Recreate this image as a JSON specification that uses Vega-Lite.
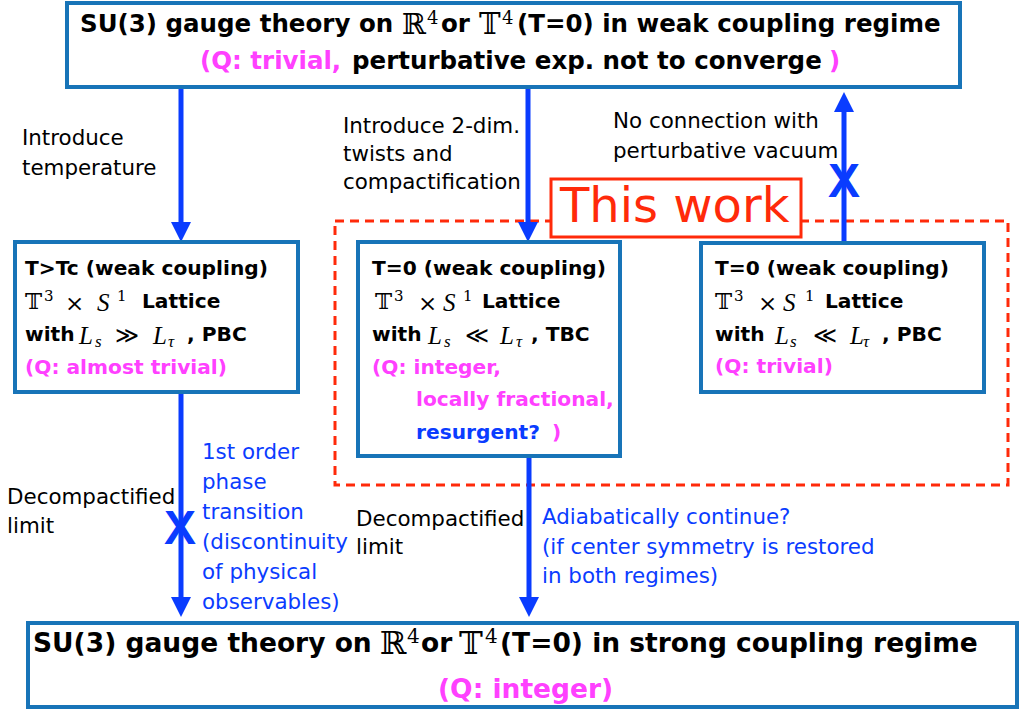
{
  "$schema": "https://vega.github.io/schema/vega-lite/v6.json",
  "width": 1022,
  "height": 709,
  "padding": 0,
  "autosize": {"type": "fit", "contains": "padding"},
  "background": "white",
  "config": {"view": {"stroke": null}},
  "datasets": {
    "boxes": [
      {"id": "top", "x": 67, "x2": 960, "y": 3, "y2": 87},
      {"id": "left", "x": 15, "x2": 298, "y": 242, "y2": 392},
      {"id": "middle", "x": 358, "x2": 620, "y": 242, "y2": 456},
      {"id": "right", "x": 701, "x2": 984, "y": 243, "y2": 392},
      {"id": "bottom", "x": 28, "x2": 1017, "y": 623, "y2": 707}
    ],
    "dashed": [{"id": "thiswork-region", "x": 335, "x2": 1008, "y": 221, "y2": 485}],
    "tag": [{"id": "thiswork-tag", "x": 551, "x2": 801, "y": 179, "y2": 237}],
    "shafts": [
      {"id": "a1", "x": 181, "y": 87, "y2": 226},
      {"id": "a2", "x": 528, "y": 87, "y2": 226},
      {"id": "a3", "x": 844, "y": 108, "y2": 243},
      {"id": "a4", "x": 181, "y": 392, "y2": 602},
      {"id": "a5", "x": 529, "y": 456, "y2": 602}
    ],
    "heads": [
      {"id": "a1", "x": 181, "y": 232, "dir": "down"},
      {"id": "a2", "x": 528, "y": 232, "dir": "down"},
      {"id": "a3", "x": 844, "y": 102, "dir": "up"},
      {"id": "a4", "x": 181, "y": 607, "dir": "down"},
      {"id": "a5", "x": 529, "y": 607, "dir": "down"}
    ],
    "crosses": [
      {"x": 180, "y": 530, "t": "X"},
      {"x": 844, "y": 183, "t": "X"}
    ],
    "sansBold": [
      {"x": 80, "y": 25, "t": "SU(3) gauge theory on", "tone": "k", "tier": "h1"},
      {"x": 441, "y": 25, "t": "or", "tone": "k", "tier": "h1"},
      {"x": 517, "y": 25, "t": "(T=0) in weak coupling regime", "tone": "k", "tier": "h1"},
      {"x": 200, "y": 62, "t": "(Q: trivial,", "tone": "m", "tier": "h1"},
      {"x": 352, "y": 62, "t": "perturbative exp. not to converge", "tone": "k", "tier": "h1"},
      {"x": 829, "y": 62, "t": ")", "tone": "m", "tier": "h1"},
      {"x": 25, "y": 269, "t": "T>Tc (weak coupling)", "tone": "k", "tier": "bb"},
      {"x": 142, "y": 302, "t": "Lattice", "tone": "k", "tier": "bb"},
      {"x": 25, "y": 335, "t": "with", "tone": "k", "tier": "bb"},
      {"x": 187, "y": 335, "t": ", PBC", "tone": "k", "tier": "bb"},
      {"x": 25, "y": 368, "t": "(Q: almost trivial)", "tone": "m", "tier": "bb"},
      {"x": 372, "y": 269, "t": "T=0 (weak coupling)", "tone": "k", "tier": "bb"},
      {"x": 482, "y": 302, "t": "Lattice", "tone": "k", "tier": "bb"},
      {"x": 372, "y": 335, "t": "with", "tone": "k", "tier": "bb"},
      {"x": 531, "y": 335, "t": ", TBC", "tone": "k", "tier": "bb"},
      {"x": 372, "y": 368, "t": "(Q: integer,", "tone": "m", "tier": "bb"},
      {"x": 416, "y": 400, "t": "locally fractional,", "tone": "m", "tier": "bb"},
      {"x": 416, "y": 433, "t": "resurgent?", "tone": "b", "tier": "bb"},
      {"x": 552, "y": 433, "t": ")", "tone": "m", "tier": "bb"},
      {"x": 715, "y": 269, "t": "T=0 (weak coupling)", "tone": "k", "tier": "bb"},
      {"x": 825, "y": 302, "t": "Lattice", "tone": "k", "tier": "bb"},
      {"x": 715, "y": 335, "t": "with", "tone": "k", "tier": "bb"},
      {"x": 882, "y": 335, "t": ", PBC", "tone": "k", "tier": "bb"},
      {"x": 715, "y": 367, "t": "(Q: trivial)", "tone": "m", "tier": "bb"},
      {"x": 33, "y": 644, "t": "SU(3) gauge theory on", "tone": "k", "tier": "h2"},
      {"x": 421, "y": 644, "t": "or", "tone": "k", "tier": "h2"},
      {"x": 500, "y": 644, "t": "(T=0) in strong coupling regime", "tone": "k", "tier": "h2"},
      {"x": 438, "y": 690, "t": "(Q: integer)", "tone": "m", "tier": "h2"}
    ],
    "sansRegular": [
      {"x": 22, "y": 139, "t": "Introduce", "tone": "k", "tier": "l"},
      {"x": 22, "y": 169, "t": "temperature", "tone": "k", "tier": "l"},
      {"x": 343, "y": 127, "t": "Introduce 2-dim.", "tone": "k", "tier": "l"},
      {"x": 343, "y": 155, "t": "twists and", "tone": "k", "tier": "l"},
      {"x": 343, "y": 183, "t": "compactification", "tone": "k", "tier": "l"},
      {"x": 613, "y": 122, "t": "No connection with", "tone": "k", "tier": "l"},
      {"x": 613, "y": 152, "t": "perturbative vacuum", "tone": "k", "tier": "l"},
      {"x": 560, "y": 208, "t": "This work", "tone": "r", "tier": "big"},
      {"x": 7, "y": 498, "t": "Decompactified", "tone": "k", "tier": "l"},
      {"x": 7, "y": 527, "t": "limit", "tone": "k", "tier": "l"},
      {"x": 202, "y": 453, "t": "1st order", "tone": "b", "tier": "l"},
      {"x": 202, "y": 483, "t": "phase", "tone": "b", "tier": "l"},
      {"x": 202, "y": 513, "t": "transition", "tone": "b", "tier": "l"},
      {"x": 202, "y": 543, "t": "(discontinuity", "tone": "b", "tier": "l"},
      {"x": 202, "y": 573, "t": "of physical", "tone": "b", "tier": "l"},
      {"x": 202, "y": 603, "t": "observables)", "tone": "b", "tier": "l"},
      {"x": 356, "y": 520, "t": "Decompactified", "tone": "k", "tier": "l"},
      {"x": 356, "y": 548, "t": "limit", "tone": "k", "tier": "l"},
      {"x": 542, "y": 518, "t": "Adiabatically continue?", "tone": "b", "tier": "l"},
      {"x": 542, "y": 548, "t": "(if center symmetry is restored", "tone": "b", "tier": "l"},
      {"x": 542, "y": 577, "t": "in both regimes)", "tone": "b", "tier": "l"}
    ],
    "mathRoman": [
      {"x": 402, "y": 25, "t": "ℝ", "tone": "k", "tier": "m1"},
      {"x": 427, "y": 19, "t": "4", "tone": "k", "tier": "s1"},
      {"x": 479, "y": 25, "t": "𝕋", "tone": "k", "tier": "m1"},
      {"x": 502, "y": 19, "t": "4", "tone": "k", "tier": "s1"},
      {"x": 380, "y": 644, "t": "ℝ", "tone": "k", "tier": "m2"},
      {"x": 407, "y": 637, "t": "4", "tone": "k", "tier": "s2"},
      {"x": 459, "y": 644, "t": "𝕋", "tone": "k", "tier": "m2"},
      {"x": 485, "y": 637, "t": "4", "tone": "k", "tier": "s2"},
      {"x": 25, "y": 302, "t": "𝕋", "tone": "k", "tier": "mb"},
      {"x": 44, "y": 296, "t": "3", "tone": "k", "tier": "sb"},
      {"x": 65, "y": 304, "t": "×", "tone": "k", "tier": "mb"},
      {"x": 117, "y": 296, "t": "1", "tone": "k", "tier": "sb"},
      {"x": 115, "y": 336, "t": "≫", "tone": "k", "tier": "mb"},
      {"x": 375, "y": 302, "t": "𝕋", "tone": "k", "tier": "mb"},
      {"x": 394, "y": 296, "t": "3", "tone": "k", "tier": "sb"},
      {"x": 418, "y": 304, "t": "×", "tone": "k", "tier": "mb"},
      {"x": 463, "y": 296, "t": "1", "tone": "k", "tier": "sb"},
      {"x": 465, "y": 336, "t": "≪", "tone": "k", "tier": "mb"},
      {"x": 715, "y": 302, "t": "𝕋", "tone": "k", "tier": "mb"},
      {"x": 734, "y": 296, "t": "3", "tone": "k", "tier": "sb"},
      {"x": 758, "y": 304, "t": "×", "tone": "k", "tier": "mb"},
      {"x": 805, "y": 296, "t": "1", "tone": "k", "tier": "sb"},
      {"x": 813, "y": 336, "t": "≪", "tone": "k", "tier": "mb"}
    ],
    "mathItalic": [
      {"x": 97, "y": 303, "t": "S", "tone": "k", "tier": "it"},
      {"x": 79, "y": 336, "t": "L", "tone": "k", "tier": "it"},
      {"x": 95, "y": 342, "t": "s", "tone": "k", "tier": "sub"},
      {"x": 153, "y": 336, "t": "L", "tone": "k", "tier": "it"},
      {"x": 168, "y": 342, "t": "τ", "tone": "k", "tier": "sub"},
      {"x": 443, "y": 303, "t": "S", "tone": "k", "tier": "it"},
      {"x": 428, "y": 336, "t": "L", "tone": "k", "tier": "it"},
      {"x": 444, "y": 342, "t": "s", "tone": "k", "tier": "sub"},
      {"x": 500, "y": 336, "t": "L", "tone": "k", "tier": "it"},
      {"x": 516, "y": 342, "t": "τ", "tone": "k", "tier": "sub"},
      {"x": 783, "y": 303, "t": "S", "tone": "k", "tier": "it"},
      {"x": 775, "y": 336, "t": "L", "tone": "k", "tier": "it"},
      {"x": 790, "y": 342, "t": "s", "tone": "k", "tier": "sub"},
      {"x": 850, "y": 336, "t": "L", "tone": "k", "tier": "it"},
      {"x": 863, "y": 342, "t": "τ", "tone": "k", "tier": "sub"}
    ]
  },
  "layer": [
    {
      "data": {"name": "dashed"},
      "mark": {"type": "rect", "fill": null, "fillOpacity": 0, "stroke": "#ff2a0a", "strokeWidth": 3, "strokeDash": [9, 6]},
      "encoding": {
        "x": {"field": "x", "type": "quantitative", "scale": {"domain": [0, 1022], "nice": false, "zero": false}, "axis": null},
        "x2": {"field": "x2"},
        "y": {"field": "y", "type": "quantitative", "scale": {"domain": [0, 709], "reverse": true, "nice": false, "zero": false}, "axis": null},
        "y2": {"field": "y2"}
      }
    },
    {
      "data": {"name": "shafts"},
      "mark": {"type": "rule", "stroke": "#0a3cff", "strokeWidth": 5},
      "encoding": {
        "x": {"field": "x", "type": "quantitative", "scale": {"domain": [0, 1022], "nice": false, "zero": false}, "axis": null},
        "y": {"field": "y", "type": "quantitative", "scale": {"domain": [0, 709], "reverse": true, "nice": false, "zero": false}, "axis": null},
        "y2": {"field": "y2"}
      }
    },
    {
      "data": {"name": "heads"},
      "mark": {"type": "point", "filled": true, "fill": "#0a3cff", "opacity": 1, "strokeWidth": 0, "size": 400},
      "encoding": {
        "x": {"field": "x", "type": "quantitative", "scale": {"domain": [0, 1022], "nice": false, "zero": false}, "axis": null},
        "y": {"field": "y", "type": "quantitative", "scale": {"domain": [0, 709], "reverse": true, "nice": false, "zero": false}, "axis": null},
        "shape": {"field": "dir", "type": "nominal", "scale": {"domain": ["down", "up"], "range": ["M-1,-1L1,-1L0,1Z", "M-1,1L1,1L0,-1Z"]}, "legend": null}
      }
    },
    {
      "data": {"name": "boxes"},
      "mark": {"type": "rect", "fill": "white", "stroke": "#1874b8", "strokeWidth": 4},
      "encoding": {
        "x": {"field": "x", "type": "quantitative", "scale": {"domain": [0, 1022], "nice": false, "zero": false}, "axis": null},
        "x2": {"field": "x2"},
        "y": {"field": "y", "type": "quantitative", "scale": {"domain": [0, 709], "reverse": true, "nice": false, "zero": false}, "axis": null},
        "y2": {"field": "y2"}
      }
    },
    {
      "data": {"name": "tag"},
      "mark": {"type": "rect", "fill": "white", "stroke": "#ff2a0a", "strokeWidth": 3},
      "encoding": {
        "x": {"field": "x", "type": "quantitative", "scale": {"domain": [0, 1022], "nice": false, "zero": false}, "axis": null},
        "x2": {"field": "x2"},
        "y": {"field": "y", "type": "quantitative", "scale": {"domain": [0, 709], "reverse": true, "nice": false, "zero": false}, "axis": null},
        "y2": {"field": "y2"}
      }
    },
    {
      "data": {"name": "sansBold"},
      "mark": {"type": "text", "font": "DejaVu Sans", "fontWeight": "bold", "align": "left", "baseline": "middle"},
      "encoding": {
        "x": {"field": "x", "type": "quantitative", "scale": {"domain": [0, 1022], "nice": false, "zero": false}, "axis": null},
        "y": {"field": "y", "type": "quantitative", "scale": {"domain": [0, 709], "reverse": true, "nice": false, "zero": false}, "axis": null},
        "text": {"field": "t"},
        "color": {"field": "tone", "type": "nominal", "scale": {"domain": ["k", "m", "b", "r"], "range": ["#000000", "#ff40ff", "#0a3cff", "#ff2a0a"]}, "legend": null},
        "size": {"field": "tier", "type": "ordinal", "scale": {"type": "ordinal", "domain": ["h1", "h2", "bb", "l", "big", "m1", "m2", "s1", "s2", "mb", "sb", "it", "sub"], "range": [24.5, 26.5, 20.2, 21.4, 48, 29, 32, 18, 20, 23, 15, 25, 17]}, "legend": null}
      }
    },
    {
      "data": {"name": "sansRegular"},
      "mark": {"type": "text", "font": "DejaVu Sans", "align": "left", "baseline": "middle"},
      "encoding": {
        "x": {"field": "x", "type": "quantitative", "scale": {"domain": [0, 1022], "nice": false, "zero": false}, "axis": null},
        "y": {"field": "y", "type": "quantitative", "scale": {"domain": [0, 709], "reverse": true, "nice": false, "zero": false}, "axis": null},
        "text": {"field": "t"},
        "color": {"field": "tone", "type": "nominal", "scale": {"domain": ["k", "m", "b", "r"], "range": ["#000000", "#ff40ff", "#0a3cff", "#ff2a0a"]}, "legend": null},
        "size": {"field": "tier", "type": "ordinal", "scale": {"type": "ordinal", "domain": ["h1", "h2", "bb", "l", "big", "m1", "m2", "s1", "s2", "mb", "sb", "it", "sub"], "range": [24.5, 26.5, 20.2, 21.4, 48, 29, 32, 18, 20, 23, 15, 25, 17]}, "legend": null}
      }
    },
    {
      "data": {"name": "mathRoman"},
      "mark": {"type": "text", "font": "DejaVu Serif, DejaVu Sans", "align": "left", "baseline": "middle"},
      "encoding": {
        "x": {"field": "x", "type": "quantitative", "scale": {"domain": [0, 1022], "nice": false, "zero": false}, "axis": null},
        "y": {"field": "y", "type": "quantitative", "scale": {"domain": [0, 709], "reverse": true, "nice": false, "zero": false}, "axis": null},
        "text": {"field": "t"},
        "color": {"field": "tone", "type": "nominal", "scale": {"domain": ["k", "m", "b", "r"], "range": ["#000000", "#ff40ff", "#0a3cff", "#ff2a0a"]}, "legend": null},
        "size": {"field": "tier", "type": "ordinal", "scale": {"type": "ordinal", "domain": ["h1", "h2", "bb", "l", "big", "m1", "m2", "s1", "s2", "mb", "sb", "it", "sub"], "range": [24.5, 26.5, 20.2, 21.4, 48, 29, 32, 18, 20, 23, 15, 25, 17]}, "legend": null}
      }
    },
    {
      "data": {"name": "mathItalic"},
      "mark": {"type": "text", "font": "Liberation Serif", "fontStyle": "italic", "align": "left", "baseline": "middle"},
      "encoding": {
        "x": {"field": "x", "type": "quantitative", "scale": {"domain": [0, 1022], "nice": false, "zero": false}, "axis": null},
        "y": {"field": "y", "type": "quantitative", "scale": {"domain": [0, 709], "reverse": true, "nice": false, "zero": false}, "axis": null},
        "text": {"field": "t"},
        "color": {"field": "tone", "type": "nominal", "scale": {"domain": ["k", "m", "b", "r"], "range": ["#000000", "#ff40ff", "#0a3cff", "#ff2a0a"]}, "legend": null},
        "size": {"field": "tier", "type": "ordinal", "scale": {"type": "ordinal", "domain": ["h1", "h2", "bb", "l", "big", "m1", "m2", "s1", "s2", "mb", "sb", "it", "sub"], "range": [24.5, 26.5, 20.2, 21.4, 48, 29, 32, 18, 20, 23, 15, 25, 17]}, "legend": null}
      }
    },
    {
      "data": {"name": "crosses"},
      "mark": {"type": "text", "font": "Liberation Sans", "fontWeight": "bold", "fontSize": 48, "align": "center", "baseline": "middle", "fill": "#0a3cff"},
      "encoding": {
        "x": {"field": "x", "type": "quantitative", "scale": {"domain": [0, 1022], "nice": false, "zero": false}, "axis": null},
        "y": {"field": "y", "type": "quantitative", "scale": {"domain": [0, 709], "reverse": true, "nice": false, "zero": false}, "axis": null},
        "text": {"field": "t"}
      }
    }
  ]
}
